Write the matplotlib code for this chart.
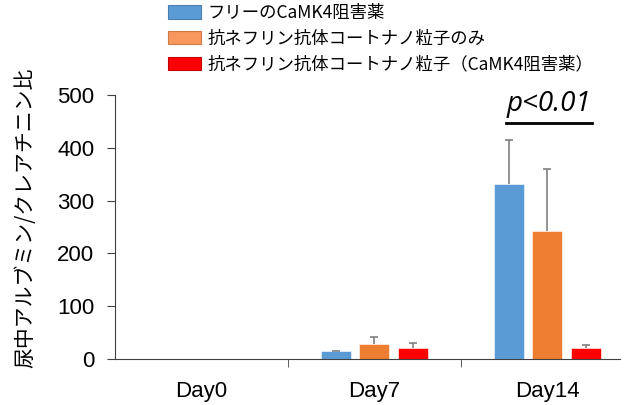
import numpy as np
import matplotlib.pyplot as plt
from matplotlib.patches import Patch

plt.rcParams['font.family'] = ['Liberation Sans', 'DejaVu Sans']

# Data:

days = ["Day0", "Day7", "Day14"]
series = [
    "フリーのCaMK4阻害薬",
    "抗ネフリン抗体コートナノ粒子のみ",
    "抗ネフリン抗体コートナノ粒子（CaMK4阻害薬）",
]
free_inhibitor = [0, 15, 331]
free_inhibitor_err = [0, 1, 84]
np_only = [0, 28, 243]
np_only_err = [0, 14, 116]
np_inhibitor = [0, 20, 20]
np_inhibitor_err = [0, 10, 6]

BAR_COLORS = ["#5B9BD5", "#ED7D31", "#FF0000"]
LEGEND_COLORS = ["#5B9BD5", "#F8975E", "#FF0000"]
LEGEND_EDGES = ["#4A7FB0", "#D07A45", "#C00000"]

values = [free_inhibitor, np_only, np_inhibitor]
errors = [free_inhibitor_err, np_only_err, np_inhibitor_err]

# Figure setup:

fig = plt.figure(figsize=(6.27, 4.05), dpi=100)
ax = fig.add_axes([115 / 627, 1 - 359 / 405, 505 / 627, 264 / 405])

x = np.arange(len(days))
width = 0.173
step = 0.222

for index, (vals, errs) in enumerate(zip(values, errors)):
    pos = x + (index - 1) * step
    vals = np.array(vals, dtype=float)
    errs = np.array(errs, dtype=float)
    ax.bar(pos, vals, width, color=BAR_COLORS[index],
           edgecolor="white", linewidth=0.4, zorder=2)

    # Upper error bars only (no cap at the bar top):

    mask = errs > 0
    tops = vals[mask] + errs[mask]
    ax.vlines(pos[mask], vals[mask], tops, color="#808080",
              linewidth=1.2, zorder=3)
    ax.plot(pos[mask], tops, linestyle="none", marker="_",
            markersize=6, markeredgewidth=1.2, color="#808080", zorder=3)

# Axes styling:

ax.set_xlim(-0.5, 2.42)
ax.set_ylim(0, 500)
ax.set_yticks(range(0, 501, 100))
ax.spines['top'].set_visible(False)
ax.spines['right'].set_visible(False)
ax.spines['left'].set_color("#404040")
ax.spines['bottom'].set_color("#404040")
ax.tick_params(axis='y', direction='out', length=6, color="#404040",
               labelsize=16, pad=9)
ax.set_xticks(x)
ax.set_xticklabels(days)
ax.set_xticks([0.5, 1.5], minor=True)
ax.tick_params(axis='x', which='major', length=0, labelsize=16, pad=16)
ax.tick_params(axis='x', which='minor', length=6, color="#404040")

fig.text(25 / 627, 1 - 218 / 405, "尿中アルブミン/クレアチニン比",
         rotation=90, ha='center', va='center', fontsize=15,
         family=['Noto Sans CJK JP', 'DejaVu Sans'])

# Significance marker:

ax.text(2.01, 483, "p<0.01", ha='center', va='center', fontsize=20,
        style='italic', family=['Open Sans', 'DejaVu Sans'])
ax.plot([2 - 0.24, 2 + 0.26], [447, 447], color="black", linewidth=2,
        clip_on=False)

# Legend:

handles = [Patch(facecolor=LEGEND_COLORS[i], edgecolor=LEGEND_EDGES[i],
                 linewidth=0.8) for i in range(3)]
fig.legend(handles, series, loc='upper left',
           bbox_to_anchor=(168 / 627, 1 - 4 / 405), frameon=False,
           borderpad=0, borderaxespad=0, handlelength=1.9,
           handleheight=0.8, handletextpad=0.35, labelspacing=0.45,
           prop={'family': ['Noto Sans CJK JP', 'DejaVu Sans'],
                 'size': 12.5})

fig.savefig("out.png", dpi=100)
